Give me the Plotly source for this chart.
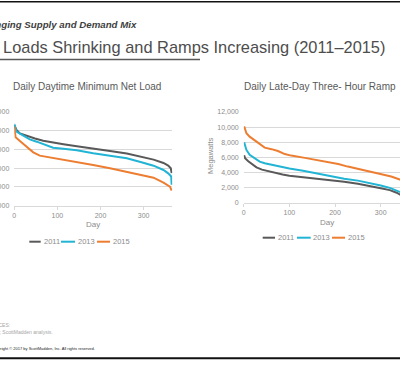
import plotly.graph_objects as go

W, H = 400, 378

years = ["2011", "2013", "2015"]
colors = ["#595959", "#22B4D4", "#ED7D31"]

# ---- Left chart: Daily Daytime Minimum Net Load (MW, sorted by day) ----
min_days_2011 = [0, 5, 13, 25, 36, 48, 67, 90, 114, 145, 183, 222, 261, 299, 323, 346, 357, 363, 365]
min_vals_2011 = [26500, 25200, 24300, 23800, 23250, 22950, 22350, 21800, 21400, 20850, 20300, 19600,
                 18900, 18000, 17300, 16400, 15700, 15000, 13700]
min_days_2013 = [0, 5, 21, 36, 52, 67, 90, 114, 145, 183, 222, 261, 299, 323, 346, 357, 364, 365]
min_vals_2013 = [26800, 24750, 23700, 22700, 22080, 21370, 20480, 20220, 19770, 18970, 18350, 17640,
                 16480, 15680, 14530, 13640, 12800, 10600]
min_days_2015 = [0, 3, 13, 28, 44, 59, 82, 105, 145, 183, 222, 261, 299, 323, 346, 361, 365]
min_vals_2015 = [26100, 23240, 22260, 20750, 19240, 18350, 17900, 17370, 16750, 15860, 14970, 14080,
                 13190, 12470, 11140, 10070, 9060]

# ---- Right chart: Daily Late-Day Three-Hour Ramp (MW, sorted by day) ----
ramp_days_2011 = [1, 3, 10, 18, 28, 40, 55, 70, 85, 100, 130, 160, 190, 220, 250, 280, 300, 320, 335, 345, 365]
ramp_vals_2011 = [6300, 5900, 5500, 5100, 4700, 4400, 4150, 3950, 3750, 3580, 3400, 3250, 3000, 2800,
                  2550, 2250, 1950, 1700, 1350, 1000, 400]
ramp_days_2013 = [1, 3, 6, 13, 24, 35, 46, 61, 80, 100, 130, 160, 190, 220, 250, 280, 300, 320, 340, 365]
ramp_vals_2013 = [8000, 7400, 7000, 6350, 5900, 5450, 5250, 5050, 4800, 4550, 4250, 3900, 3500, 3200,
                  2950, 2600, 2300, 2000, 1550, 900]
ramp_days_2015 = [1, 3, 6, 13, 24, 35, 46, 61, 75, 90, 104, 134, 163, 192, 207, 228, 250, 280, 301, 323, 342, 365]
ramp_vals_2015 = [10100, 9750, 9200, 8750, 8300, 7750, 7300, 7100, 6850, 6450, 6250, 5950, 5600, 5350,
                  5150, 4800, 4500, 4150, 3800, 3500, 3100, 2400]

left_ticks = [5000, 10000, 15000, 20000, 25000, 30000]
right_ticks = [0, 2000, 4000, 6000, 8000, 10000, 12000]
x_ticks = [0, 100, 200, 300]

left_series = [(min_days_2011, min_vals_2011), (min_days_2013, min_vals_2013), (min_days_2015, min_vals_2015)]
right_series = [(ramp_days_2011, ramp_vals_2011), (ramp_days_2013, ramp_vals_2013), (ramp_days_2015, ramp_vals_2015)]


def px(x):
    return x / W


def py(y):
    return 1 - y / H


fig = go.Figure()
for name, col, (d, v) in zip(years, colors, left_series):
    fig.add_trace(go.Scatter(x=d, y=v, mode="lines", name=name, line=dict(color=col, width=2),
                             xaxis="x", yaxis="y", showlegend=False))
for name, col, (d, v) in zip(years, colors, right_series):
    fig.add_trace(go.Scatter(x=d, y=v, mode="lines", name=name, line=dict(color=col, width=2),
                             xaxis="x2", yaxis="y2", showlegend=False))

FONT = "Liberation Sans, Arial, sans-serif"
tickfont = dict(family=FONT, size=7, color="#8c8c8c")
grid = "#d9d9d9"

common_x = dict(tickvals=x_ticks, showgrid=False, zeroline=False, showline=True, linecolor=grid,
                linewidth=1, ticks="outside", ticklen=3, tickcolor=grid, tickfont=tickfont,
                automargin=False, fixedrange=True)
common_y = dict(showgrid=True, gridcolor=grid, gridwidth=1, zeroline=False, showline=False,
                ticks="", tickformat=",", tickfont=tickfont, automargin=False,
                ticklabelstandoff=4, fixedrange=True)

fig.update_layout(
    width=W, height=H, margin=dict(l=0, r=0, t=0, b=0),
    paper_bgcolor="white", plot_bgcolor="white", template="none", showlegend=False,
    xaxis=dict(domain=[px(14.3), px(172.3)], range=[0, 366.5], anchor="y", **common_x),
    yaxis=dict(domain=[py(205.7), py(112)], range=[5000, 30000], tickvals=left_ticks, anchor="x", **common_y),
    xaxis2=dict(domain=[px(243.7), 1.0], range=[0, (400 - 243.7) / 0.4567], anchor="y2", **common_x),
    yaxis2=dict(domain=[py(203), py(112)], range=[0, 12000], tickvals=right_ticks, anchor="x2", **common_y),
)

ann = []


def text(x, y, s, size, color, anchor="center", **kw):
    ann.append(dict(x=px(x), y=py(y), xref="paper", yref="paper", text=s, showarrow=False,
                    xanchor=anchor, yanchor="middle", font=dict(family=kw.pop("family", FONT), size=size, color=color),
                    **kw))


# Slide header
text(139, 24, "<b><i>Changing Supply and Demand Mix</i></b>", 9.7, "#404040", anchor="right",
     family="Liberation Sans Narrow, Arial Narrow, Liberation Sans, sans-serif")
text(387, 46.5, "Net Loads Shrinking and Ramps Increasing (2011–2015)", 16.4, "#4d4d4d", anchor="right")

# Chart titles
text(87, 87, "Daily Daytime Minimum Net Load", 10, "#595959")
text(320, 87, "Daily Late-Day Three- Hour Ramp", 10, "#595959")
# Axis titles
text(93, 224, "Day", 8, "#8c8c8c")
text(327, 222, "Day", 8, "#8c8c8c")
text(210, 156, "Megawatts", 7.5, "#8c8c8c", textangle=-90)

# Legends
shapes = []
legend_specs = [
    (241.7, [(29.3, 40.7, 41.5), (61, 75, 75.5), (97, 110, 110.5)]),
    (237.7, [(262.7, 275, 275.5), (297, 310.7, 311.2), (332, 345, 345.5)]),
]
for ly, items in legend_specs:
    for (x0, x1, tx), name, col in zip(items, years, colors):
        shapes.append(dict(type="line", xref="paper", yref="paper", x0=px(x0), x1=px(x1), y0=py(ly), y1=py(ly),
                           line=dict(color=col, width=2)))
        text(tx, ly, name, 7.5, "#8c8c8c", anchor="left")

# Footnotes
text(12, 325, "SOURCES:", 5, "#a6a6a6", anchor="right")
text(55, 332, "CAISO; ScottMadden analysis.", 5, "#a6a6a6", anchor="right")
text(97, 348, "Copyright © 2017 by ScottMadden, Inc. All rights reserved.", 4, "#222222", anchor="right")

# Rules
shapes.append(dict(type="line", xref="paper", yref="paper", x0=0, x1=1, y0=py(1.8), y1=py(1.8),
                   line=dict(color="#111111", width=1.5)))
shapes.append(dict(type="line", xref="paper", yref="paper", x0=0, x1=1, y0=py(358.3), y1=py(358.3),
                   line=dict(color="#111111", width=2)))
shapes.append(dict(type="line", xref="paper", yref="paper", x0=px(-20), x1=px(200), y0=py(59.5), y1=py(59.5),
                   line=dict(color="#595959", width=1.5)))

fig.update_layout(annotations=ann, shapes=shapes)

fig.write_html("out.html", config={"displayModeBar": False, "staticPlot": True},
               post_script="document.body.style.margin='0';document.body.style.overflow='hidden';")
